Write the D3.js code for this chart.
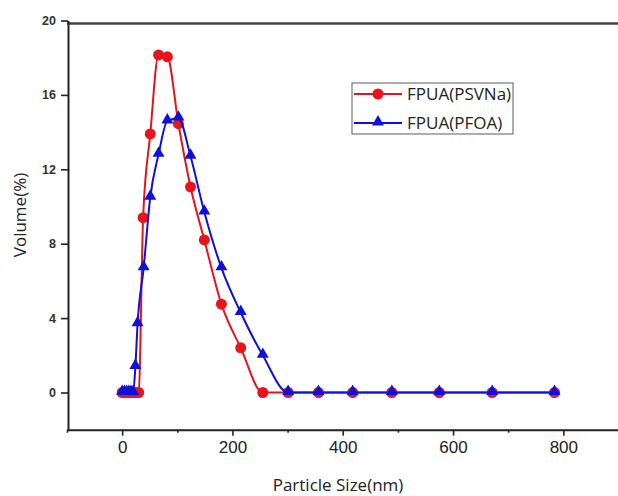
<!DOCTYPE html>
<html>
<head>
<meta charset="utf-8">
<script src="https://cdn.jsdelivr.net/npm/d3@7"></script>
<style>
  body { margin: 0; background: #fff; }
  svg { display: block; font-family: "Open Sans", sans-serif; }
</style>
</head>
<body>
<div id="chart"></div>
<script>
// particle size (nm) and volume (%)
var psvnaSize = [0, 5, 10, 15, 20, 25, 30, 38, 51, 66, 82, 102, 124, 149, 180, 215, 255, 301, 356, 418, 489, 575, 671, 784];
var psvnaVol  = [0, 0, 0, 0, 0, 0, 0, 9.4, 13.9, 18.15, 18.05, 14.45, 11.05, 8.2, 4.75, 2.4, 0, 0, 0, 0, 0, 0, 0, 0];

var pfoaSize = [0, 4, 8, 12, 16, 20, 24, 28, 39, 51, 66, 82, 102, 124, 149, 180, 215, 255, 301, 356, 418, 489, 575, 671, 784];
var pfoaVol  = [0, 0, 0, 0, 0, 0, 1.4, 3.7, 6.7, 10.5, 12.8, 14.6, 14.75, 12.7, 9.7, 6.7, 4.3, 2.0, 0, 0, 0, 0, 0, 0, 0];

var xTicks = [0, 200, 400, 600, 800];
var xMinorTicks = [-100, 100, 300, 500, 700];
var yTicks = [0, 4, 8, 12, 16, 20];
var seriesNames = ["FPUA(PSVNa)", "FPUA(PFOA)"];

var svgWidth = 618;
var svgHeight = 496;

var svg = d3.select("#chart")
    .append("svg")
    .attr("width", svgWidth)
    .attr("height", svgHeight);

// right part of the frame is cut off by the picture edge
var xScale = d3.scaleLinear().domain([-100, 900]).range([67, 618.5]);
var yScale = d3.scaleLinear().domain([-2, 20]).range([429.7, 20.5]);

var axisColor = "#222";

// top frame line
svg.append("line")
    .attr("x1", xScale(-100)).attr("x2", svgWidth)
    .attr("y1", yScale(20) + 3).attr("y2", yScale(20) + 3)
    .attr("stroke", "#444")
    .attr("stroke-width", 2.5);

// x axis
var xAxis = svg.append("g")
    .attr("transform", `translate(0, ${yScale(-2)})`)
    .call(d3.axisBottom(xScale).tickValues(xTicks).tickSize(6).tickPadding(5).tickSizeOuter(0));

svg.append("g")
    .attr("transform", `translate(0, ${yScale(-2)})`)
    .call(d3.axisBottom(xScale).tickValues(xMinorTicks).tickSize(3).tickFormat("").tickSizeOuter(0))
    .select(".domain").remove();

xAxis.selectAll("text")
    .style("font-size", "17px")
    .attr("fill", "#222");

// y axis
var yAxis = svg.append("g")
    .attr("transform", `translate(${xScale(-100) + 1}, 0)`)
    .call(d3.axisLeft(yScale).tickValues(yTicks).tickSize(7).tickPadding(5).tickSizeOuter(0));

yAxis.selectAll("text")
    .style("font-size", "12.5px")
    .style("font-weight", "600")
    .attr("fill", "#333");

svg.selectAll(".domain").attr("stroke", axisColor).attr("stroke-width", 2);
svg.selectAll(".tick line").attr("stroke", axisColor).attr("stroke-width", 1.6);

// axis titles
svg.append("text")
    .attr("x", 338)
    .attr("y", 491)
    .attr("text-anchor", "middle")
    .style("font-size", "17px")
    .attr("fill", "#222")
    .text("Particle Size(nm)");

svg.append("text")
    .attr("transform", "rotate(-90)")
    .attr("x", -215)
    .attr("y", 26)
    .attr("text-anchor", "middle")
    .style("font-size", "17px")
    .attr("fill", "#222")
    .text("Volume(%)");

var red = "#e8141b";
var blue = "#1010d8";

var line = d3.line()
    .x(d => xScale(d[0]))
    .y(d => yScale(d[1]))
    .curve(d3.curveMonotoneX);

var psvnaData = psvnaSize.map((s, i) => [s, psvnaVol[i]]);
var pfoaData = pfoaSize.map((s, i) => [s, pfoaVol[i]]);

var plot = svg.append("g");

// red series
plot.append("path")
    .datum(psvnaData)
    .attr("d", line)
    .attr("fill", "none")
    .attr("stroke", red)
    .attr("stroke-width", 2);

plot.append("g")
    .selectAll("circle")
    .data(psvnaData)
    .enter()
    .append("circle")
    .attr("cx", d => xScale(d[0]))
    .attr("cy", d => yScale(d[1]))
    .attr("r", 5.5)
    .attr("fill", red);

// blue series
plot.append("path")
    .datum(pfoaData)
    .attr("d", line)
    .attr("fill", "none")
    .attr("stroke", blue)
    .attr("stroke-width", 2);

var tri = d3.symbol().type(d3.symbolTriangle).size(62);

plot.append("g")
    .selectAll("path")
    .data(pfoaData)
    .enter()
    .append("path")
    .attr("d", tri)
    .attr("transform", d => `translate(${xScale(d[0])}, ${yScale(d[1]) - 1})`)
    .attr("fill", blue);

// legend
var legend = svg.append("g").attr("transform", "translate(352, 83)");

legend.append("rect")
    .attr("width", 161)
    .attr("height", 51)
    .attr("fill", "#fff")
    .attr("stroke", "#777")
    .attr("stroke-width", 1.2);

var legendColors = [red, blue];

seriesNames.forEach((name, i) => {
    var row = legend.append("g").attr("transform", `translate(0, ${11 + i * 29})`);
    row.append("line")
        .attr("x1", 2).attr("x2", 50)
        .attr("stroke", legendColors[i])
        .attr("stroke-width", 2);
    if (i == 0) {
        row.append("circle").attr("cx", 26).attr("r", 5.5).attr("fill", red);
    } else {
        row.append("path").attr("d", tri).attr("transform", "translate(26, -1)").attr("fill", blue);
    }
    row.append("text")
        .attr("x", 55)
        .attr("y", 6)
        .style("font-size", "17px")
        .attr("fill", "#222")
        .text(name);
});
</script>
</body>
</html>
